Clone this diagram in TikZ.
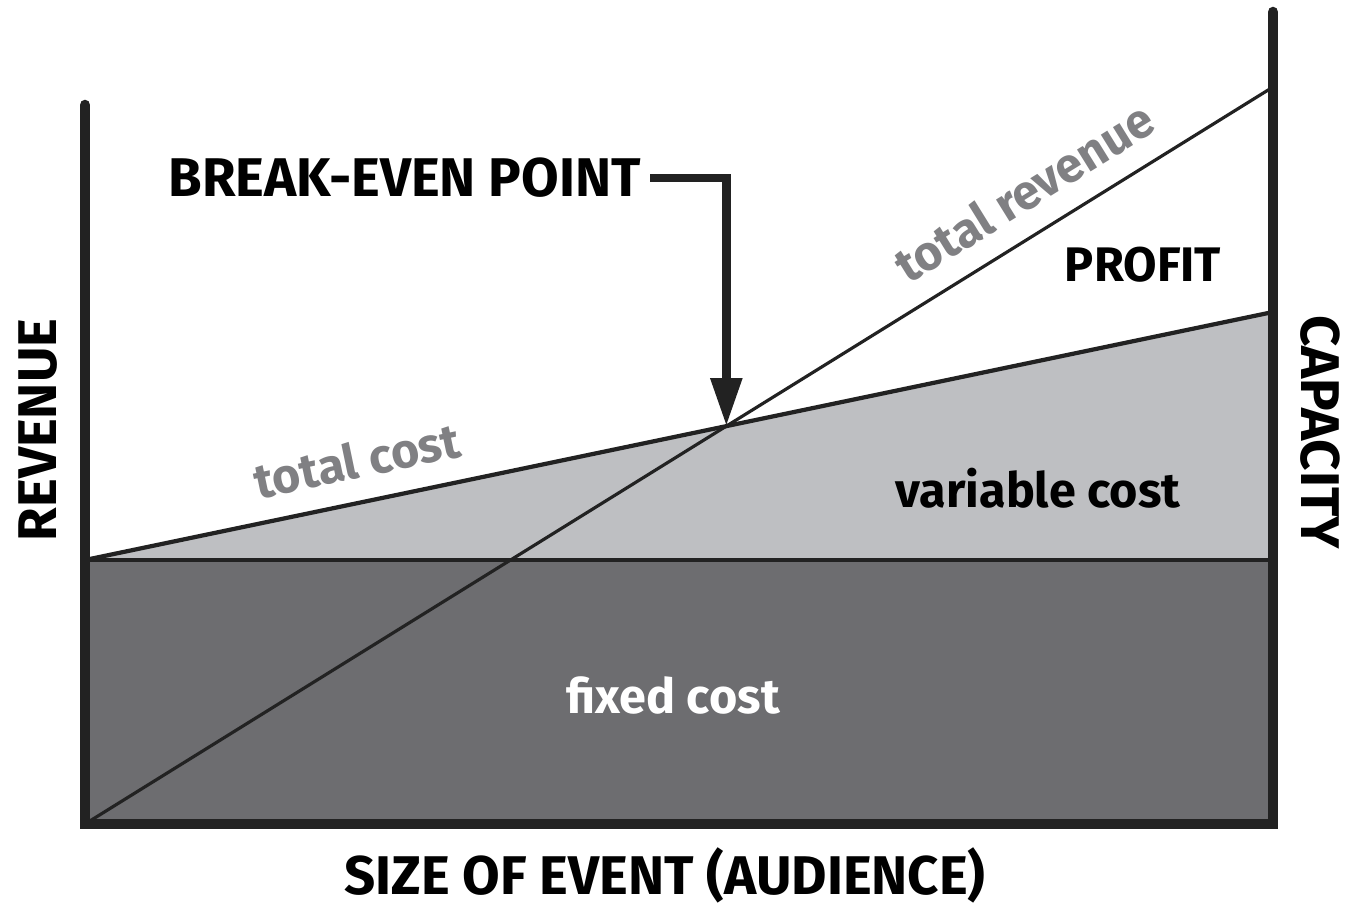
\documentclass[tikz,border=0pt]{standalone}
\usepackage{fontspec}
\setmainfont{Fira Sans}
\usetikzlibrary{intersections,arrows.meta}
\definecolor{fixedgray}{HTML}{6D6D70}
\definecolor{vargray}{HTML}{BEBFC2}
\definecolor{labelgray}{HTML}{808083}
\definecolor{inkline}{HTML}{222222}
\tikzset{
  axisline/.style={line width=3pt, draw=inkline},
  thinline/.style={line width=1.2pt, draw=inkline},
  caption/.style={font=\fontsize{15.5}{15.5}\selectfont\bfseries, text=black, inner sep=0pt},
  areatext/.style={font=\fontsize{13.8}{13.8}\selectfont\bfseries, text=black, inner sep=0pt},
  curvelabel/.style={font=\fontsize{13.8}{13.8}\selectfont\bfseries, text=labelgray, inner sep=0pt},
}
\begin{document}
\begin{tikzpicture}[x=0.01cm, y=-0.01cm]
  \useasboundingbox (0,0) rectangle (1353,905);
  \fill[white] (0,0) rectangle (1353,905);

  % corners of the chart
  \coordinate (O) at (85,824);
  \coordinate (F0) at (85,560);
  \coordinate (F1) at (1273,560);
  \coordinate (C1) at (1273,312);
  \coordinate (R1) at (1273,87);
  \coordinate (B1) at (1273,824);

  % fixed cost block
  \fill[fixedgray] (O) rectangle (F1);
  % variable cost wedge
  \fill[vargray] (F0) -- (C1) -- (F1) -- cycle;
  \draw[thinline] (F0) -- (F1);

  % total cost and total revenue lines
  \draw[thinline, name path=cost] (F0) -- (C1);
  \draw[line width=0.9pt, draw=inkline, name path=rev] (O) -- (R1);
  \path[name intersections={of=cost and rev, by=BE}];

  % axes
  \draw[axisline, line cap=round] (85,105) -- (O) -- (B1) -- (1273,12);

  % labels
  \node[caption, anchor=base west] (bep) at (168,196) {BREAK-EVEN POINT};
  \coordinate (k0) at (650,178);
  \draw[line width=2.4pt, draw=inkline, -{Triangle[width=0.3cm, length=0.48cm]}]
    (k0) -| (BE);
  \node[areatext] (profit) at (1143,265) {PROFIT};
  \node[areatext] (varc) at (1038,488) {variable cost};
  \node[areatext, text=white] (fixc) at (673,695) {fixed cost};
  \node[curvelabel, rotate=11.8] (tc) at (357,460) {total cost};
  \node[curvelabel, rotate=31.8] (tr) at (1024,192) {total revenue};
  \node[caption, rotate=90] (yrev) at (38,430) {REVENUE};
  \node[caption, rotate=-90] (ycap) at (1320,432) {CAPACITY};
  \node[caption] (xlab) at (665,875) {SIZE OF EVENT (AUDIENCE)};
\end{tikzpicture}
\end{document}
